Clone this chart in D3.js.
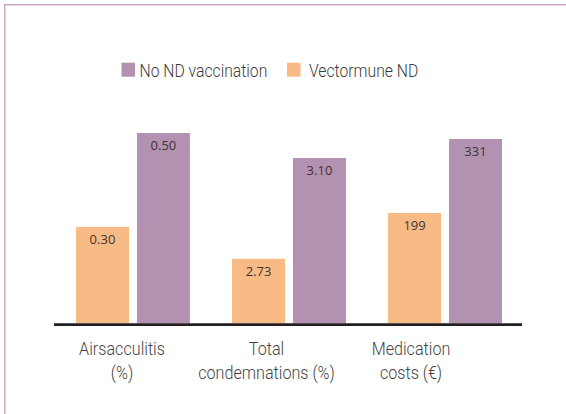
<!DOCTYPE html>
<html>
<head>
<meta charset="utf-8">
<script src="https://cdn.jsdelivr.net/npm/d3@7.9.0/dist/d3.min.js"></script>
<style>
  html, body { margin: 0; padding: 0; background: #fff; }
  svg { display: block; }
  .cond { font-family: Roboto, "DejaVu Sans Condensed", sans-serif; font-weight: 300; }
  .val { font-family: "Open Sans", sans-serif; }
</style>
</head>
<body>
<div id="chart"></div>
<script>
// categories, two lines each
const categories = ['Airsacculitis', 'Total condemnations', 'Medication costs'];
const categoryLines = [
  ['Airsacculitis', '(%)'],
  ['Total', 'condemnations (%)'],
  ['Medication', 'costs (€)'],
];
const series = ['Vectormune ND', 'No ND vaccination'];
const vectormune = [0.30, 2.73, 199];
const noVaccination = [0.50, 3.10, 331];
const valueLabels = [['0.30', '0.50'], ['2.73', '3.10'], ['199', '331']];
// each category is drawn on its own (unlabelled) value axis
const catDomains = [[0.095, 0.5], [2.493, 3.192], [2.2, 341.7]];

const colors = { 'Vectormune ND': '#f9bb85', 'No ND vaccination': '#b392b1' };

const width = 566, height = 414;
const baseline = 323.3, plotTop = 133;
const squeeze = 0.85; // condensed look for the DIN-like labels

const svg = d3.select('#chart').append('svg')
  .attr('width', width).attr('height', height);

// frame
svg.append('rect')
  .attr('x', 4.75).attr('y', 4.75)
  .attr('width', 700).attr('height', 600)
  .attr('fill', 'none')
  .attr('stroke', '#c9a7c5')
  .attr('stroke-width', 1.5);

const x0 = d3.scaleBand().domain(categories).range([76, 502]).paddingInner(0.27);
const x1 = d3.scaleBand().domain(series).range([0, x0.bandwidth()]).paddingInner(0.131);
const xLabel = d3.scalePoint().domain(categories).range([122, 411]);

const yScales = catDomains.map(dom => d3.scaleLinear().domain(dom).range([baseline, plotTop]));

const rows = categories.map((c, i) => ({
  cat: c,
  i,
  bars: [
    { s: 'Vectormune ND', v: vectormune[i], label: valueLabels[i][0] },
    { s: 'No ND vaccination', v: noVaccination[i], label: valueLabels[i][1] },
  ],
}));

const groups = svg.append('g').selectAll('g')
  .data(rows)
  .join('g')
  .attr('transform', d => `translate(${x0(d.cat)},0)`);

groups.selectAll('rect')
  .data(d => d.bars.map(b => ({ ...b, y: yScales[d.i] })))
  .join('rect')
  .attr('x', d => x1(d.s))
  .attr('y', d => d.y(d.v))
  .attr('width', x1.bandwidth())
  .attr('height', d => baseline - d.y(d.v))
  .attr('fill', d => colors[d.s]);

groups.selectAll('text')
  .data(d => d.bars.map(b => ({ ...b, y: yScales[d.i] })))
  .join('text')
  .attr('class', 'val')
  .attr('x', d => x1(d.s) + x1.bandwidth() / 2)
  .attr('y', d => d.y(d.v) + 17)
  .attr('text-anchor', 'middle')
  .attr('font-size', 13)
  .attr('fill', '#3d3336')
  .text(d => d.label);

// baseline axis
svg.append('line')
  .attr('x1', 54).attr('x2', 522)
  .attr('y1', baseline + 1.3).attr('y2', baseline + 1.3)
  .attr('stroke', '#231f20')
  .attr('stroke-width', 2.6);

// category labels
const lab = svg.append('g').selectAll('text')
  .data(categories)
  .join('text')
  .attr('class', 'cond')
  .attr('text-anchor', 'middle')
  .attr('font-size', 19)
  .attr('fill', '#444')
  .attr('transform', d => `translate(${xLabel(d)},355) scale(${squeeze},1)`);

lab.selectAll('tspan')
  .data((d, i) => categoryLines[i])
  .join('tspan')
  .attr('x', 0)
  .attr('dy', (d, j) => j === 0 ? 0 : 24.5)
  .text(d => d);

// legend
const legendItems = [
  { s: 'No ND vaccination', x: 121.5 },
  { s: 'Vectormune ND', x: 287 },
];
const leg = svg.append('g').selectAll('g')
  .data(legendItems)
  .join('g')
  .attr('transform', d => `translate(${d.x},62.7)`);
leg.append('rect')
  .attr('width', 13.5).attr('height', 14)
  .attr('fill', d => colors[d.s]);
leg.append('text')
  .attr('class', 'cond')
  .attr('transform', (d, i) => `translate(${i === 0 ? 18 : 22},14.3) scale(${squeeze},1)`)
  .attr('font-size', 18.5)
  .attr('fill', '#3a3a3a')
  .text(d => d.s);
</script>
</body>
</html>
